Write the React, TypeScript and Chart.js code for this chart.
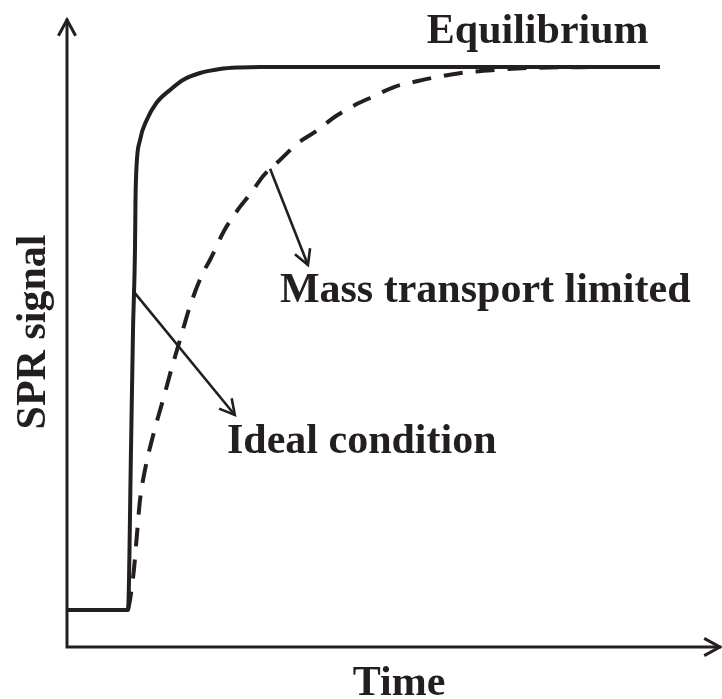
import React, { useEffect, useRef } from "react";
import { Chart, registerables } from "chart.js";

Chart.register(...registerables);

// Ideal condition curve (time, signal)
const idealTime = [0, 9.34, 9.8, 10.11, 10.41, 10.49, 10.64, 11.18, 12.21, 13.74, 15.77, 17.76, 20.37, 23.43, 26.49, 29.56, 90.8];
const idealSignal = [5.95, 5.95, 31.7, 51.0, 63.8, 71.86, 77.17, 81.51, 84.73, 87.54, 89.55, 91.16, 92.28, 92.93, 93.17, 93.25, 93.25];

// Mass transport limited curve (time, signal)
const massTime = [9.34, 9.65, 10.26, 10.72, 11.18, 11.94, 13.32, 14.7, 16.08, 17.3, 18.84, 20.67, 22.05, 24.04, 26.03, 28.18, 30.17, 32.62, 35.38, 37.98, 41.19, 44.1, 46.71, 50.08, 53.75, 56.66, 60.34, 65.39, 70.9, 78.56, 87.75];
const massSignal = [5.95, 7.56, 12.54, 18.17, 23.63, 28.46, 34.57, 39.71, 45.02, 49.36, 54.82, 59.81, 62.54, 66.88, 70.1, 72.99, 75.88, 78.3, 81.03, 82.8, 85.37, 87.14, 88.42, 90.03, 90.99, 91.64, 92.28, 92.77, 93.09, 93.22, 93.25];

// Annotations
const annotationLabels = ["Equilibrium", "Mass transport limited", "Ideal condition"];
const annotationLabelX = [55.1, 32.6, 24.5];
const annotationLabelY = [97.1, 55.5, 31.2];
const arrowFrom = [null, [31.1, 76.9], [10.4, 56.9]] as (number[] | null)[];
const arrowTo = [null, [36.9, 61.4], [25.7, 37.3]] as (number[] | null)[];

const xTitle = "Time";
const yTitle = "SPR signal";

const INK = "#231f20";
const FONT = 'bold 42px "Liberation Serif", "Times New Roman", serif';

function chevron(ctx: CanvasRenderingContext2D, tx: number, ty: number, angle: number, len: number, spread: number) {
  ctx.beginPath();
  ctx.moveTo(tx - len * Math.cos(angle - spread), ty - len * Math.sin(angle - spread));
  ctx.lineTo(tx, ty);
  ctx.lineTo(tx - len * Math.cos(angle + spread), ty - len * Math.sin(angle + spread));
  ctx.stroke();
}

const decorPlugin = {
  id: "decor",
  afterDatasetsDraw(chart: any) {
    const ctx: CanvasRenderingContext2D = chart.ctx;
    const { left, right, top, bottom } = chart.chartArea;
    const xs = chart.scales.x;
    const ys = chart.scales.y;
    ctx.save();
    ctx.strokeStyle = INK;
    ctx.fillStyle = INK;
    ctx.lineCap = "butt";
    ctx.lineJoin = "miter";

    // axes
    ctx.lineWidth = 3;
    ctx.beginPath();
    ctx.moveTo(left, top - 6);
    ctx.lineTo(left, bottom);
    ctx.lineTo(right + 1, bottom);
    ctx.stroke();
    chevron(ctx, left, top - 5, -Math.PI / 2, 18, 0.5);
    chevron(ctx, right, bottom, 0, 18, 0.5);

    // annotation arrows
    ctx.lineWidth = 2.6;
    for (let i = 0; i < annotationLabels.length; i++) {
      const f = arrowFrom[i];
      const t = arrowTo[i];
      if (!f || !t) continue;
      const x1 = xs.getPixelForValue(f[0]);
      const y1 = ys.getPixelForValue(f[1]);
      const x2 = xs.getPixelForValue(t[0]);
      const y2 = ys.getPixelForValue(t[1]);
      ctx.beginPath();
      ctx.moveTo(x1, y1);
      ctx.lineTo(x2, y2);
      ctx.stroke();
      chevron(ctx, x2, y2, Math.atan2(y2 - y1, x2 - x1), 17, 0.5);
    }

    // labels
    ctx.font = FONT;
    ctx.textBaseline = "alphabetic";
    ctx.textAlign = "left";
    for (let i = 0; i < annotationLabels.length; i++) {
      ctx.fillText(
        annotationLabels[i],
        xs.getPixelForValue(annotationLabelX[i]),
        ys.getPixelForValue(annotationLabelY[i])
      );
    }

    // axis titles
    ctx.textAlign = "center";
    ctx.fillText(xTitle, 399, 695);
    ctx.translate(45, 332);
    ctx.rotate(-Math.PI / 2);
    ctx.fillText(yTitle, 0, 0);
    ctx.restore();
  },
};

export default function App() {
  const ref = useRef<HTMLCanvasElement | null>(null);
  useEffect(() => {
    if (!ref.current) return;
    const chart = new Chart(ref.current, {
      type: "line",
      data: {
        datasets: [
          {
            label: "Ideal condition",
            data: idealTime.map((t, i) => ({ x: t, y: idealSignal[i] })),
            borderColor: INK,
            borderWidth: 4,
            pointRadius: 0,
            cubicInterpolationMode: "monotone",
            fill: false,
          },
          {
            label: "Mass transport limited",
            data: massTime.map((t, i) => ({ x: t, y: massSignal[i] })),
            borderColor: INK,
            borderWidth: 4,
            borderDash: [19, 13],
            pointRadius: 0,
            cubicInterpolationMode: "monotone",
            fill: false,
          },
        ],
      },
      options: {
        animation: false,
        responsive: false,
        maintainAspectRatio: false,
        layout: { padding: { left: 67, right: 2, top: 25, bottom: 52 } },
        plugins: { legend: { display: false }, tooltip: { enabled: false } },
        scales: {
          x: { type: "linear", min: 0, max: 100, display: false },
          y: { type: "linear", min: 0, max: 100, display: false },
        },
      },
      plugins: [decorPlugin],
    });
    return () => chart.destroy();
  }, []);
  return (
    <div style={{ position: "fixed", left: 0, top: 0, width: 722, height: 699, background: "#fff" }}>
      <canvas ref={ref} width={722} height={699} style={{ display: "block" }} />
    </div>
  );
}
